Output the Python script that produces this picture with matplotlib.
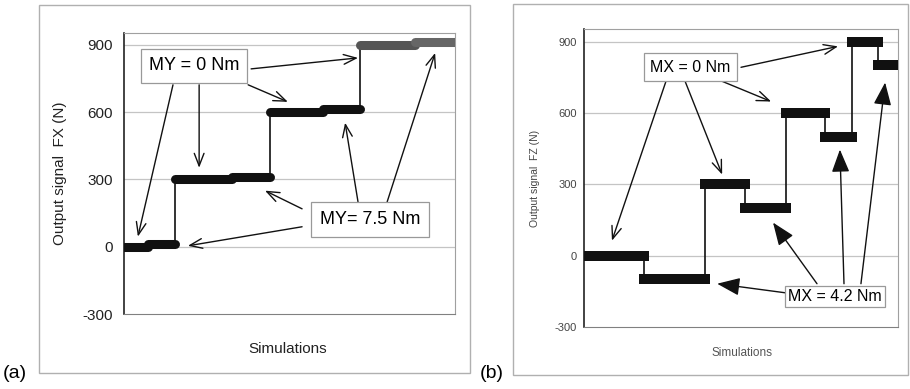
import numpy as np
import matplotlib.pyplot as plt
from matplotlib.patches import Rectangle

plt.rcParams['font.family'] = ['Liberation Sans', 'DejaVu Sans']
plt.rcParams['axes.unicode_minus'] = False

# panel (a): FX output, steps of simulations (x in % of simulation run)
edges_a = [0, 7.3, 15.4, 32.6, 44.1, 60.1, 71.3, 87.9, 100]
levels_a = [0, 12, 300, 312, 600, 612, 900, 912]
colors_a = ['#111111'] * 6 + ['#555555', '#666666']

# panel (b): FZ output
edges_b = [0, 19.1, 38.5, 51.3, 64.3, 76.8, 85.4, 93.6, 100]
levels_b = [0, -100, 300, 200, 600, 500, 900, 800]

yticks = [-300, 0, 300, 600, 900]

fig = plt.figure(figsize=(9.1, 3.89), dpi=100)

# panel frames
fig.patches.append(Rectangle((39 / 910, 1 - 373 / 389), 431 / 910, 368 / 389,
                             transform=fig.transFigure, fill=False, ec='#b0b0b0', lw=1))
fig.patches.append(Rectangle((513 / 910, 1 - 375 / 389), 395 / 910, 371 / 389,
                             transform=fig.transFigure, fill=False, ec='#b0b0b0', lw=1))
fig.text(15 / 910, 1 - 373 / 389, '(a)', fontsize=14, ha='center', va='center')
fig.text(492 / 910, 1 - 373 / 389, '(b)', fontsize=14, ha='center', va='center')


def style_axes(ax, tick_fs, tick_pad, tick_col):
    ax.set_xlim(0, 100)
    ax.set_ylim(-300, 953)
    ax.set_yticks(yticks)
    ax.set_xticks([])
    ax.tick_params(axis='y', length=0, pad=tick_pad, labelsize=tick_fs, labelcolor=tick_col)
    for v in yticks[1:]:
        ax.axhline(v, color='#c4c4c4', lw=0.9, zorder=0)
    ax.spines['left'].set_color('#222222')
    ax.spines['left'].set_linewidth(1.2)
    for s in ['top', 'right', 'bottom']:
        ax.spines[s].set_color('#a0a0a0')
    ax.spines['bottom'].set_color('#808080')


# ---- (a)
ax1 = fig.add_axes([124 / 910, 1 - 314 / 389, 331 / 910, 281 / 389])
style_axes(ax1, 11, 8, '#222222')
for i in range(len(levels_a)):
    x0, x1 = edges_a[i], edges_a[i + 1]
    if i > 0:
        ax1.plot([x0, x0], [levels_a[i - 1], levels_a[i]], color='#111111', lw=1.2, zorder=2)
    ax1.plot([x0, x1], [levels_a[i], levels_a[i]], color=colors_a[i], lw=6.5,
             solid_capstyle='round', zorder=3)
ax1.set_ylabel('Output signal  FX (N)', fontsize=11, color='#222222')
ax1.yaxis.set_label_coords(-0.172, 0.5)
ax1.set_xlabel('Simulations', fontsize=11, color='#222222')
ax1.xaxis.set_label_coords(0.495, -0.10)

box_a = dict(boxstyle='square,pad=0.45', fc='white', ec='#999999', lw=0.9)
ax1.text(21.1, 806, 'MY = 0 Nm', fontsize=13, ha='center', va='center', bbox=box_a, zorder=5)
ax1.text(74.3, 120, 'MY= 7.5 Nm', fontsize=13, ha='center', va='center',
         bbox=dict(boxstyle='square,pad=0.5', fc='white', ec='#999999', lw=0.9), zorder=5)

open_arrow = dict(arrowstyle='->,head_length=0.9,head_width=0.35', color='#111111',
                  lw=1.0, shrinkA=0, shrinkB=0)
for tail, head in [((38.4, 793), (70.7, 842)), ((37.5, 722), (49.5, 646)),
                   ((22.7, 722), (22.7, 352)), ((14.8, 722), (4.2, 45)),
                   ((70.7, 200), (66.8, 553)), ((79.5, 200), (94, 864)),
                   ((53.8, 169), (42.6, 250)), ((53.8, 89), (19.3, 4))]:
    ax1.annotate('', xy=head, xytext=tail, arrowprops=open_arrow, zorder=4)

# ---- (b)
ax2 = fig.add_axes([584 / 910, 1 - 327 / 389, 314 / 910, 298 / 389])
style_axes(ax2, 8, 5, '#444444')
for i in range(len(levels_b)):
    x0, x1 = edges_b[i], edges_b[i + 1]
    if i > 0:
        ax2.plot([x0, x0], [levels_b[i - 1], levels_b[i]], color='#111111', lw=1.2, zorder=2)
    ax2.plot([x0, x1], [levels_b[i], levels_b[i]], color='#111111', lw=7.2,
             solid_capstyle='projecting', zorder=3)
ax2.set_ylabel('Output signal  FZ (N)', fontsize=7.5, color='#444444')
ax2.yaxis.set_label_coords(-0.14, 0.5)
ax2.set_xlabel('Simulations', fontsize=8.5, color='#555555')
ax2.xaxis.set_label_coords(0.503, -0.067)

ax2.text(33.8, 792, 'MX = 0 Nm', fontsize=11.5, ha='center', va='center',
         bbox=dict(boxstyle='square,pad=0.4', fc='white', ec='#999999', lw=0.9), zorder=5)
ax2.text(80, -173, 'MX = 4.2 Nm', fontsize=11.5, ha='center', va='center',
         bbox=dict(boxstyle='square,pad=0.2', fc='white', ec='#999999', lw=0.9), zorder=5)

for tail, head in [((50, 792), (80.9, 880)), ((44, 733), (59.6, 648)),
                   ((32.2, 733), (44, 341)), ((26.1, 733), (8.9, 63))]:
    ax2.annotate('', xy=head, xytext=tail, arrowprops=open_arrow, zorder=4)

filled_arrow = dict(arrowstyle='-|>,head_length=1.4,head_width=0.55', color='#111111',
                    lw=1.0, shrinkA=0, shrinkB=0)
for tail, head in [((64, -156), (42.4, -118)), ((74.2, -118), (60.2, 139)),
                   ((82.8, -118), (81.5, 446)), ((88.2, -118), (95.9, 728))]:
    ax2.annotate('', xy=head, xytext=tail, arrowprops=filled_arrow, zorder=4)

fig.savefig('out.png', dpi=100)
